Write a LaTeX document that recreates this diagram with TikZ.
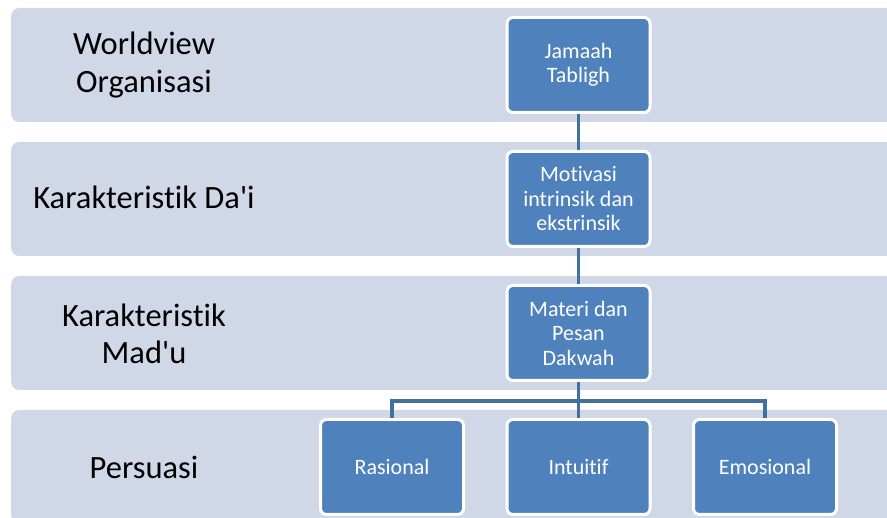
\documentclass[tikz,border=0pt]{standalone}
\usepackage{fontspec}
\setmainfont{Carlito}[Ligatures=NoCommon]
\usetikzlibrary{positioning}
\definecolor{bandgray}{HTML}{D0D8E8}
\definecolor{boxblue}{HTML}{4F81BD}
\definecolor{linkblue}{HTML}{41719C}

\begin{document}
\begin{tikzpicture}[
		x=1pt, y=-1pt, % pixel-like coordinates, y pointing down
		node distance=36pt and 40.5pt, % Distance between boxes
		band/.style={fill=bandgray, rounded corners=8pt, minimum width=900pt, minimum height=114pt, anchor=west, inner sep=0pt},
		level/.style={align=center, text=black, font=\fontsize{32.5}{37.5}\selectfont},
		box/.style={draw=white, line width=3pt, fill=boxblue, rounded corners=6pt, minimum width=143pt, minimum height=95pt, align=center, text=white, inner sep=2pt, font=\fontsize{22}{24.5}\selectfont},
		link/.style={draw=linkblue, line width=3.5pt}
	]

	% Page frame
	\useasboundingbox (0,0) rectangle (887,518);
	\clip (0,0) rectangle (887,518);
	\fill[white] (0,0) rectangle (887,518);

	% Background bands
	\node[band] (band1) at (11,65) {};
	\node[band] (band2) at (11,199) {};
	\node[band] (band3) at (11,333) {};
	\node[band] (band4) at (11,467) {};

	% Level labels
	\node[level] (worldview) at (144,65) {Worldview\\Organisasi};
	\node[level] (dai) at (144,197) {Karakteristik Da\textquotesingle i};
	\node[level] (madu) at (144,334) {Karakteristik\\Mad\textquotesingle u};
	\node[level] (persuasi) at (144,467) {Persuasi};

	% Chain of boxes
	\node[box] (jamaah) at (578.5,65) {Jamaah\\Tabligh};
	\node[box, below=of jamaah] (motivasi) {Motivasi\\intrinsik dan\\ekstrinsik};
	\node[box, below=of motivasi] (materi) {Materi dan\\Pesan\\Dakwah};

	% Bottom row
	\node[box, below=of materi] (intuitif) {Intuitif};
	\node[box, left=of intuitif] (rasional) {Rasional};
	\node[box, right=of intuitif] (emosional) {Emosional};

	% Connectors
	\draw[link] (jamaah.south) -- (motivasi.north);
	\draw[link] (motivasi.south) -- (materi.north);
	\draw[link] (materi.south) -- (intuitif.north);
	\draw[link] (materi.south) -- ++(0,19) -| (rasional.north);
	\draw[link] (materi.south) -- ++(0,19) -| (emosional.north);

\end{tikzpicture}
\end{document}
